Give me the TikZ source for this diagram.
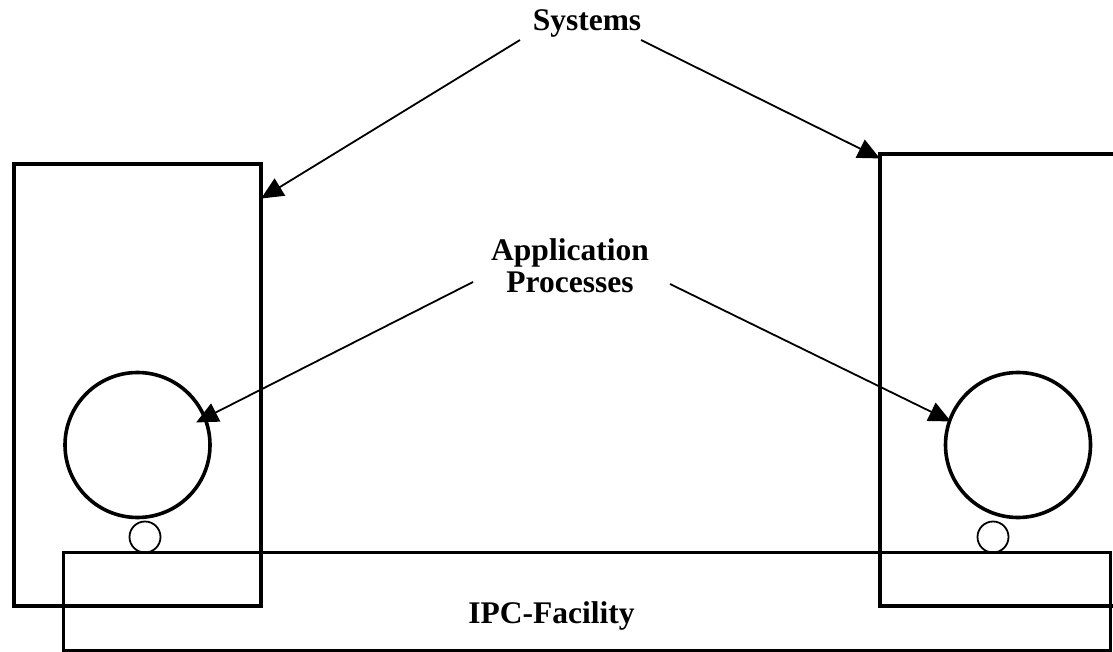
\documentclass[tikz,border=0pt]{standalone}
\usepackage{fontspec}
\setmainfont{Liberation Serif}
\usetikzlibrary{arrows.meta}
\tikzset{
  boxline/.style={draw=black, line width=3.6pt},
  arr/.style={draw=black, line width=1.8pt, -{Triangle[length=22pt,width=20pt]}, shorten >=-1pt},
  lbl/.style={font=\fontsize{31.5}{30}\selectfont\bfseries, inner sep=0pt, align=center}
}
\begin{document}
\begin{tikzpicture}[x=1pt,y=-1pt]
\useasboundingbox (0,0) rectangle (1113,652);
\clip (0,0) rectangle (1113,652);
% systems
\draw[boxline] (14,164) coordinate (sysLnw) rectangle (261,606) coordinate (sysLse);
\draw[boxline] (880,154) coordinate (sysRnw) rectangle (1140,606) coordinate (sysRse);
% IPC facility
\draw[boxline, line width=3pt] (63,552) coordinate (ipcnw) rectangle (1110,650) coordinate (ipcse);
% application processes
\node[circle, draw, line width=3.6pt, minimum size=145pt, inner sep=0pt] (apL) at (137.5,445) {};
\node[circle, draw, line width=3.6pt, minimum size=145pt, inner sep=0pt] (apR) at (1018,445) {};
% ports
\node[circle, draw, line width=1.8pt, minimum size=31pt, inner sep=0pt] (ptL) at (145,537) {};
\node[circle, draw, line width=1.8pt, minimum size=31pt, inner sep=0pt] (ptR) at (993,537) {};
% labels
\node[lbl, anchor=base] (sys) at (587,31) {Systems};
\node[lbl] (app) at (570,266) {Application\\[2pt]Processes};
\node[lbl, anchor=base] (ipc) at (551.5,623) {IPC-Facility};
% connector end points
\coordinate (sysLs) at (520,40);
\coordinate (sysRs) at (641,40);
\coordinate (sysLt) at (262,198);
\coordinate (sysRt) at (879,158);
\coordinate (appLs) at (473,282);
\coordinate (appRs) at (670,284);
\coordinate (appLt) at (197,422);
\coordinate (appRt) at (950,421);
\draw[arr] (sysLs) -- (sysLt);
\draw[arr] (sysRs) -- (sysRt);
\draw[arr] (appLs) -- (appLt);
\draw[arr] (appRs) -- (appRt);
\end{tikzpicture}
\end{document}
